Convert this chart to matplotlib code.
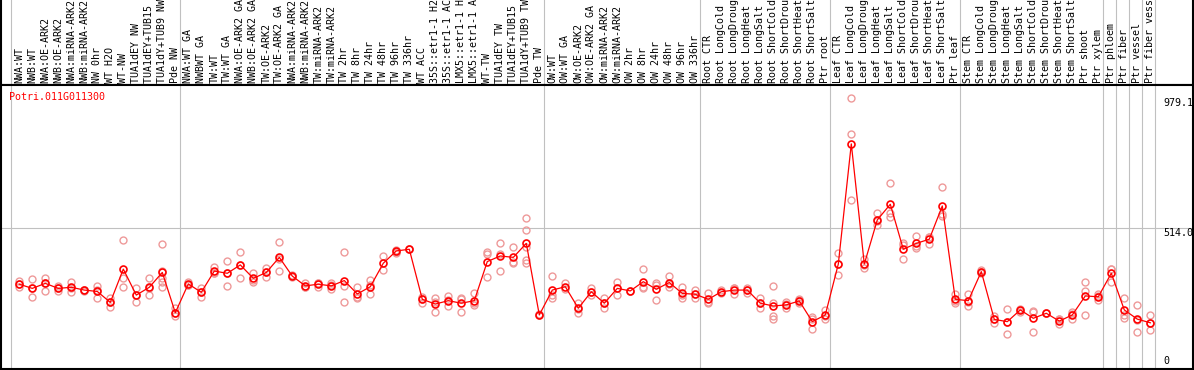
import matplotlib.pyplot as plt

# Sample names, left to right
group_nw = ['NWA:WT', 'NWB:WT', 'NWA:OE-ARK2', 'NWB:OE-ARK2', 'NWA:miRNA-ARK2', 'NWB:miRNA-ARK2',
            'NW 0hr', 'WT H2O', 'WT-NW', 'TUA1dEY NW', 'TUA1dEY+TUB15 NW', 'TUA1dY+TUB9 NW', 'Pde NW']
group_tw = ['NWA:WT GA', 'NWBWT GA', 'TW:WT', 'TW:WT GA', 'NWA:OE-ARK2 GA', 'NWB:OE-ARK2 GA',
            'TW:OE-ARK2', 'TW:OE-ARK2 GA', 'NWA:miRNA-ARK2', 'NWB:miRNA-ARK2', 'TW:miRNA-ARK2',
            'TW:miRNA-ARK2', 'TW 2hr', 'TW 8hr', 'TW 24hr', 'TW 48hr', 'TW 96hr', 'TW 336hr', 'WT ACC',
            '35S::etr1-1 H2O', '35S::etr1-1 ACC', 'LMX5::etr1-1 H2O', 'LMX5::etr1-1 ACC', 'WT-TW',
            'TUA1dEY TW', 'TUA1dEY+TUB15 TW', 'TUA1dY+TUB9 TW', 'Pde TW']
group_ow = ['OW:WT', 'OW:WT GA', 'OW:OE-ARK2', 'OW:OE-ARK2 GA', 'OW:miRNA-ARK2', 'OW:miRNA-ARK2',
            'OW 2hr', 'OW 8hr', 'OW 24hr', 'OW 48hr', 'OW 96hr', 'OW 336hr']
stress = ['CTR', 'LongCold', 'LongDrought', 'LongHeat', 'LongSalt',
          'ShortCold', 'ShortDrought', 'ShortHeat', 'ShortSalt']
group_root = ['Root ' + s for s in stress] + ['Ptr root']
group_leaf = ['Leaf ' + s for s in stress] + ['Ptr leaf']
group_stem = ['Stem ' + s for s in stress] + ['Ptr shoot', 'Ptr xylem']
group_ptr = ['Ptr phloem', 'Ptr fiber', 'Ptr vessel', 'Ptr fiber vessel']
labels = group_nw + group_tw + group_ow + group_root + group_leaf + group_stem + group_ptr

# index of the first sample of each block (gray separators)
group_starts = [0, 13, 41, 53, 63, 73, 84, 85, 86, 87, 88]

gene = 'Potri.011G011300'
y_max_label = 979.1
y_mid_label = 514.0

# mean expression per sample
means = [314, 299, 317, 299, 303, 293, 288, 249, 368, 275, 303, 356, 212,
         315, 285, 361, 353, 383, 335, 356, 410, 343, 308, 314, 308, 327, 279, 305,
         389, 433, 439, 260, 243, 255, 246, 255, 395, 415, 410, 460, 204,
         293, 305, 228, 287, 246, 299, 290, 323, 296, 320, 281, 278,
         260, 287, 293, 293, 246, 236, 240, 254, 180, 204,
         386, 816, 386, 544, 600, 439, 460, 475, 594, 260,
         255, 359, 188, 180, 222, 192, 210, 182, 204, 272, 269,
         353, 222, 189, 176]

# individual replicates per sample
replicates = [
    [327, 305, 314], [333, 267, 299], [337, 291, 320], [308, 290, 300], [323, 287, 300],
    [293, 295, 291], [308, 263, 294], [263, 234, 250], [472, 335, 303], [299, 249, 277],
    [335, 275, 300], [458, 361, 323, 305, 335], [228, 200, 210],
    [323, 311, 311], [299, 269, 287], [376, 353, 354], [397, 308, 355], [430, 335, 383],
    [353, 323, 330], [373, 338, 357], [464, 361, 405], [347, 338, 344], [318, 303, 305],
    [319, 305, 318], [317, 296, 311], [428, 308, 249], [305, 265, 268], [329, 311, 278],
    [415, 365], [430, 424, 437], [439, 440], [269, 248, 262], [263, 213, 250],
    [272, 236, 257], [263, 213, 262], [284, 246, 240], [430, 422, 338], [460, 421, 362],
    [446, 391, 393], [550, 507, 446, 401, 389], [204, 207],
    [343, 263, 275], [319, 298], [248, 210, 226], [300, 275, 287], [263, 228, 247],
    [321, 275, 300], [290, 288], [367, 299, 303], [319, 257, 312], [343, 303, 314],
    [303, 263, 277], [293, 263, 278],
    [284, 246, 250], [281, 293], [299, 278, 302], [284, 295, 300], [263, 228, 247],
    [309, 200, 188, 247], [249, 228, 243], [260, 246, 256], [198, 152, 190], [222, 188, 202],
    [424, 347, 387], [979, 850, 615], [403, 371, 384], [567, 526, 540], [675, 567, 556],
    [460, 403, 455], [486, 442, 452], [484, 458, 483], [660, 558, 565], [279, 246, 255],
    [279, 237, 250], [365, 358, 355], [200, 174, 190], [225, 135, 180], [216, 225],
    [216, 142, 218], [210, 210], [188, 170, 188], [216, 188, 208], [321, 290, 204],
    [279, 257, 271], [368, 321, 370], [263, 204, 192], [239, 142, 186], [204, 150, 174],
]

W, H = 1194, 370
mono = 'DejaVu Sans Mono'
fs = 7.2
grid_c = '#c0c0c0'

fig = plt.figure(figsize=(W / 100, H / 100), dpi=100)
ax_lab = fig.add_axes([1 / W, 285 / H, 1192 / W, 85 / H])
ax = fig.add_axes([1 / W, 1 / H, 1192 / W, 284 / H])

xmin = -18.3 / 13
xmax = xmin + 1192 / 13
for a in (ax_lab, ax):
    a.set_xlim(xmin, xmax)
    a.set_xticks([])
    a.set_yticks([])
    for s in a.spines.values():
        s.set_linewidth(1.5)
        s.set_color('black')
    for k in group_starts:
        a.axvline(k - 0.66, color=grid_c, lw=0.8, zorder=0)
ax_lab.spines['top'].set_visible(False)
ax_lab.set_ylim(0, 85)
ax.set_ylim(10.6, 1026.7)

# sample names, rotated
for i, lab in enumerate(labels):
    ax_lab.text(i, 2, lab, rotation=90, ha='center', va='bottom',
                fontsize=fs, family=mono, clip_on=False)

# horizontal reference line
ax.axhline(y_mid_label, color=grid_c, lw=0.8, zorder=0)

# replicates
for i, reps in enumerate(replicates):
    ax.plot([i] * len(reps), reps, ls='none', marker='o', ms=5, mfc='none',
            mec='#ee9999', mew=1.0, zorder=2)

# means
ax.plot(range(len(means)), means, color='red', lw=0.9, marker='o', ms=5,
        mfc='none', mec='red', mew=1.2, zorder=3)

# value labels on the right
ax.text(88.0, y_max_label, f'{y_max_label:.1f}', ha='left', va='top', fontsize=fs, family=mono)
ax.text(88.0, y_mid_label, f'{y_mid_label:.1f}', ha='left', va='top', fontsize=fs, family=mono)
ax.text(88.0, 3 / 284, '0', ha='left', va='bottom', fontsize=fs, family=mono,
        transform=ax.get_xaxis_transform())

fig.text(9.3 / W, 1 - 96.7 / H, gene, color='red', ha='left', va='center',
         fontsize=fs, family=mono)

fig.savefig('out.png', dpi=100)
